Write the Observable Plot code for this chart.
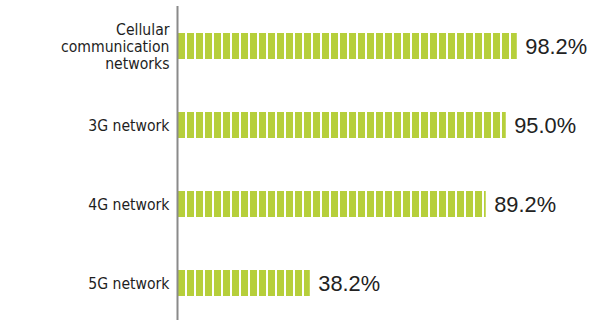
<!DOCTYPE html>
<html>
<head>
<meta charset="utf-8">
<script src="https://cdn.jsdelivr.net/npm/d3@7"></script>
<script src="https://cdn.jsdelivr.net/npm/@observablehq/plot@0.6"></script>
<style>
  html, body { margin: 0; padding: 0; background: #fff; }
  #chart svg { display: block; }
</style>
</head>
<body>
<div id="chart"></div>
<script>
const categories = ["Cellular\ncommunication\nnetworks", "3G network", "4G network", "5G network"];
const values = [98.2, 95.0, 89.2, 38.2];

const data = categories.map((c, i) => ({category: c, value: values[i]}));

const green = "#b6cf3b";
const condensed = "'DejaVu Sans Condensed', 'Liberation Sans Narrow', sans-serif";

const plot = Plot.plot({
  width: 591,
  height: 320,
  marginLeft: 178,
  marginRight: 68,
  marginTop: 9,
  marginBottom: 0,
  style: {background: "#fff"},
  x: {domain: [0, 100], axis: null},
  y: {domain: categories, paddingInner: 0.67, paddingOuter: 0.30, label: null},
  marks: [
    Plot.axisY({
      tickSize: 0,
      tickPadding: 9,
      fontSize: 15.6,
      lineHeight: 1.1,
      fontFamily: condensed,
      fill: "#1e1e1e",
      label: null
    }),
    Plot.barX(data, {x: "value", y: "category", fill: "url(#stripes)"}),
    Plot.ruleX([0], {stroke: "#8a8a8a", strokeWidth: 2, dx: -1, insetTop: -3}),
    Plot.text(data, {
      x: "value",
      y: "category",
      text: d => d.value.toFixed(1) + "%",
      textAnchor: "start",
      dx: 8,
      dy: 1,
      fontSize: 21.8,
      fontFamily: "'Liberation Sans', Arial, sans-serif",
      fill: "#222"
    })
  ]
});

const svg = d3.select(plot);
const defs = svg.insert("defs", ":first-child");
const pat = defs.append("pattern")
  .attr("id", "stripes")
  .attr("patternUnits", "userSpaceOnUse")
  .attr("x", 178)
  .attr("y", 0)
  .attr("width", 9)
  .attr("height", 10);
pat.append("rect").attr("x", 0).attr("y", 0).attr("width", 9).attr("height", 10).attr("fill", "#fff");
pat.append("rect").attr("x", 0).attr("y", 0).attr("width", 7).attr("height", 10).attr("fill", green);

document.getElementById("chart").appendChild(plot);
</script>
</body>
</html>
